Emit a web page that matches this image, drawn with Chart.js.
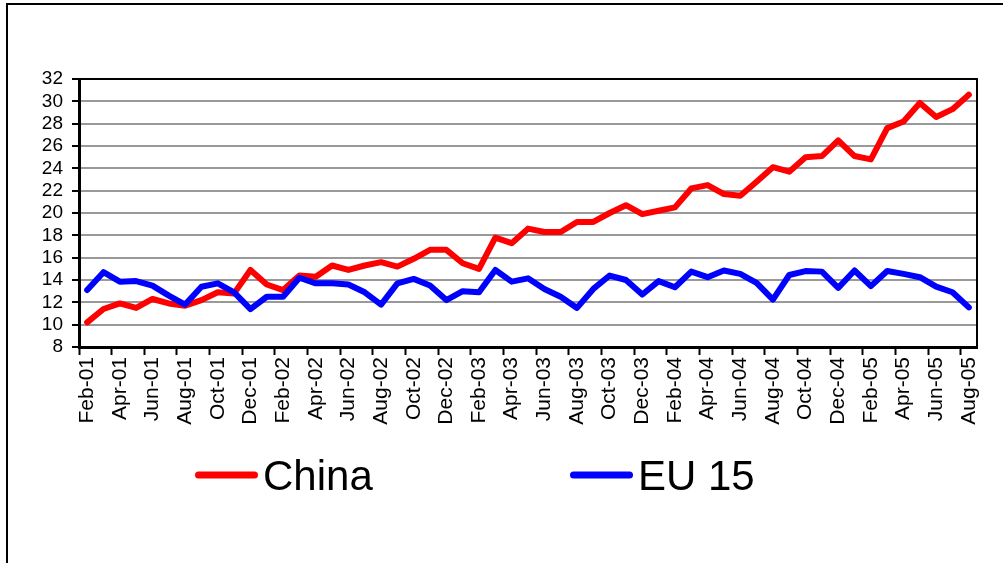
<!DOCTYPE html>
<html>
<head>
<meta charset="utf-8">
<script src="https://cdn.jsdelivr.net/npm/chart.js@4.4.1/dist/chart.umd.min.js"></script>
<style>
  body { margin: 0; background: #fff; overflow: hidden; }
  .frame { position: absolute; left: 6px; top: 3px; width: 1100px; height: 700px; border: 2px solid #000; }
  #chart { position: absolute; left: 0; top: 0; }
</style>
</head>
<body>
<div class="frame"></div>
<canvas id="chart" width="1003" height="563"></canvas>
<script>
const months = [
  'Feb-01','Mar-01','Apr-01','May-01','Jun-01','Jul-01','Aug-01','Sep-01','Oct-01','Nov-01','Dec-01',
  'Jan-02','Feb-02','Mar-02','Apr-02','May-02','Jun-02','Jul-02','Aug-02','Sep-02','Oct-02','Nov-02','Dec-02',
  'Jan-03','Feb-03','Mar-03','Apr-03','May-03','Jun-03','Jul-03','Aug-03','Sep-03','Oct-03','Nov-03','Dec-03',
  'Jan-04','Feb-04','Mar-04','Apr-04','May-04','Jun-04','Jul-04','Aug-04','Sep-04','Oct-04','Nov-04','Dec-04',
  'Jan-05','Feb-05','Mar-05','Apr-05','May-05','Jun-05','Jul-05','Aug-05'
];

const chinaValues = [
  10.2, 11.4, 11.9, 11.5, 12.3, 11.9, 11.7, 12.2, 12.9, 12.8,
  14.9, 13.6, 13.1, 14.4, 14.3, 15.3, 14.9, 15.3, 15.6, 15.2,
  15.9, 16.7, 16.7, 15.5, 15.0, 17.8, 17.3, 18.6, 18.3, 18.3,
  19.2, 19.2, 20.0, 20.7, 19.9, 20.2, 20.5, 22.2, 22.5, 21.7,
  21.55, 22.8, 24.1, 23.7, 25.0, 25.1, 26.5, 25.1, 24.8, 27.6,
  28.2, 29.85, 28.6, 29.3, 30.6
];

const eu15Values = [
  13.1, 14.7, 13.85, 13.9, 13.5, 12.6, 11.8, 13.4, 13.7, 12.9,
  11.4, 12.5, 12.5, 14.2, 13.7, 13.7, 13.6, 12.9, 11.8, 13.7,
  14.1, 13.5, 12.2, 13.0, 12.9, 14.9, 13.85, 14.15, 13.2, 12.5,
  11.5, 13.2, 14.4, 14.0, 12.7, 13.9, 13.35, 14.75, 14.25, 14.85,
  14.55, 13.75, 12.25, 14.45, 14.8, 14.75, 13.3, 14.85, 13.45, 14.8,
  14.55, 14.25, 13.4, 12.9, 11.55
];

const seriesNames = ['China', 'EU 15'];
const seriesColors = ['#ff0000', '#0000ff'];

const FONT = "'Liberation Sans', Arial, sans-serif";

// right edge of the plot area (top edge is the black 32 gridline)
const plotFrame = {
  id: 'plotFrame',
  afterDatasetsDraw(chart) {
    const { ctx, chartArea } = chart;
    ctx.save();
    ctx.strokeStyle = '#000';
    ctx.lineWidth = 2;
    ctx.beginPath();
    ctx.moveTo(chartArea.right, chartArea.top - 1);
    ctx.lineTo(chartArea.right, chartArea.bottom);
    ctx.stroke();
    ctx.restore();
  }
};

// legend under the axis labels, line sample right next to the text
const bottomLegend = {
  id: 'bottomLegend',
  afterDraw(chart, args, opts) {
    const ctx = chart.ctx;
    ctx.save();
    ctx.font = opts.fontSize + 'px ' + FONT;
    ctx.textBaseline = 'alphabetic';
    chart.data.datasets.forEach((ds, i) => {
      const x = opts.starts[i];
      ctx.strokeStyle = ds.borderColor;
      ctx.lineWidth = 7;
      ctx.lineCap = 'round';
      ctx.beginPath();
      ctx.moveTo(x + 3.5, opts.lineY);
      ctx.lineTo(x + opts.lineLength - 3.5, opts.lineY);
      ctx.stroke();
      ctx.fillStyle = '#000';
      ctx.fillText(ds.label, x + opts.lineLength + 5, opts.baseline);
    });
    ctx.restore();
  }
};

new Chart(document.getElementById('chart'), {
  type: 'line',
  data: {
    labels: months,
    datasets: [
      { label: seriesNames[0], data: chinaValues, borderColor: seriesColors[0], order: 1 },
      { label: seriesNames[1], data: eu15Values, borderColor: seriesColors[1], order: 0 }
    ]
  },
  options: {
    responsive: false,
    animation: false,
    layout: { padding: { top: 79, right: 26, bottom: 116, left: 0 } },
    elements: {
      line: { borderWidth: 6, tension: 0, borderJoinStyle: 'round', borderCapStyle: 'round', fill: false },
      point: { radius: 0, hoverRadius: 0 }
    },
    plugins: {
      legend: { display: false },
      tooltip: { enabled: false },
      bottomLegend: { starts: [195, 570], lineLength: 63, lineY: 475, baseline: 490, fontSize: 42 }
    },
    scales: {
      x: {
        offset: true,
        grid: {
          offset: true,
          drawOnChartArea: false,
          tickLength: 8,
          tickWidth: 2,
          tickColor: c => c.index % 2 === 0 ? '#000' : 'rgba(0,0,0,0)'
        },
        border: { color: '#000', width: 3 },
        ticks: {
          autoSkip: false,
          minRotation: 90,
          maxRotation: 90,
          padding: 2,
          color: '#000',
          font: { family: FONT, size: 21 },
          callback: (v, i) => i % 2 === 0 ? months[i] : ''
        },
        afterFit: s => { s.height = 100; }
      },
      y: {
        min: 8,
        max: 32,
        ticks: {
          stepSize: 2,
          autoSkip: false,
          padding: 9,
          color: '#000',
          font: { family: FONT, size: 19 }
        },
        grid: {
          color: c => c.tick && c.tick.value === 32 ? '#000' : '#999999',
          lineWidth: 2,
          tickLength: 7,
          tickColor: '#000',
          tickWidth: 2
        },
        border: { color: '#000', width: 3 },
        afterFit: s => { s.width = 79; }
      }
    }
  },
  plugins: [plotFrame, bottomLegend]
});
</script>
</body>
</html>
